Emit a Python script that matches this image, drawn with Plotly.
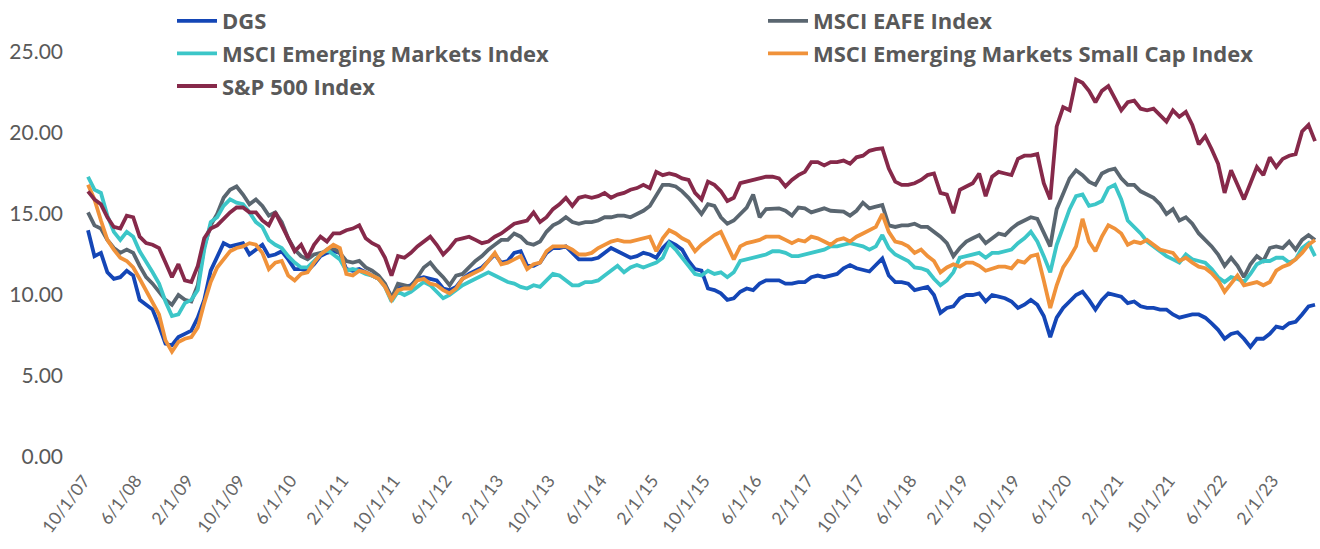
import plotly.graph_objects as go
import pandas as pd

# ---------------- data ----------------
months = pd.date_range("2007-10-01", periods=191, freq="MS")
categories = [f"{d.month}/{d.day}/{d.strftime('%y')}" for d in months]
tick_labels = categories[::8]

dgs = [
    14.0, 12.4, 12.6, 11.4, 11.0, 11.1, 11.5, 11.2, 9.7, 9.4,
    9.1, 8.1, 7.0, 6.9, 7.4, 7.6, 7.8, 8.6, 9.7, 11.5,
    12.3, 13.2, 13.0, 13.1, 13.2, 12.5, 12.8, 13.1, 12.4, 12.5,
    12.7, 12.2, 11.6, 11.6, 11.5, 11.9, 12.4, 12.6, 12.7, 12.6,
    11.6, 11.5, 11.6, 11.4, 11.2, 11.0, 10.6, 9.9, 10.4, 10.5,
    10.6, 11.0, 11.1, 11.0, 10.9, 10.4, 10.3, 10.5, 11.0, 11.3,
    11.5, 11.7, 12.1, 12.5, 12.0, 12.1, 12.6, 12.7, 11.8, 11.8,
    12.0, 12.6, 12.9, 12.9, 13.0, 12.6, 12.2, 12.2, 12.2, 12.3,
    12.6, 12.9, 12.7, 12.5, 12.3, 12.4, 12.6, 12.5, 12.3, 12.9,
    13.3, 13.1, 12.8, 12.1, 11.6, 11.5, 10.4, 10.3, 10.1, 9.7,
    9.8, 10.2, 10.4, 10.3, 10.7, 10.9, 10.9, 10.9, 10.7, 10.7,
    10.8, 10.8, 11.1, 11.2, 11.1, 11.2, 11.3, 11.65, 11.85, 11.65,
    11.55, 11.45, 11.85, 12.25, 11.2, 10.8, 10.8, 10.7, 10.3, 10.4,
    10.5, 10.0, 8.9, 9.2, 9.3, 9.8, 10.0, 10.0, 10.1, 9.6,
    10.0, 9.9, 9.8, 9.6, 9.2, 9.4, 9.7, 9.4, 8.7, 7.4,
    8.6, 9.2, 9.6, 10.0, 10.2, 9.7, 9.1, 9.7, 10.1, 10.0,
    9.9, 9.5, 9.6, 9.3, 9.2, 9.2, 9.1, 9.1, 8.8, 8.6,
    8.7, 8.8, 8.8, 8.6, 8.25, 7.85, 7.3, 7.6, 7.7, 7.3,
    6.8, 7.3, 7.3, 7.6, 8.05, 7.95, 8.25, 8.35, 8.8, 9.3, 9.4,
]

msci_eafe = [
    15.1, 14.3, 14.1, 13.4, 12.9, 12.6, 12.8, 12.6, 11.8, 11.1,
    10.7, 10.2, 9.7, 9.4, 10.0, 9.7, 9.6, 10.6, 13.0, 14.3,
    15.0, 16.0, 16.5, 16.7, 16.2, 15.6, 15.9, 15.5, 14.9, 15.1,
    14.5, 13.5, 12.8, 12.4, 12.2, 12.5, 12.6, 12.7, 12.9, 12.6,
    12.1, 12.0, 12.1, 11.7, 11.5, 11.2, 10.7, 9.8, 10.7, 10.6,
    10.5, 11.1, 11.7, 12.0, 11.5, 11.1, 10.6, 11.2, 11.3, 11.7,
    12.1, 12.4, 12.8, 13.1, 13.4, 13.4, 13.8, 13.6, 13.2, 13.1,
    13.3, 13.9, 14.3, 14.5, 14.8, 14.5, 14.4, 14.5, 14.5, 14.6,
    14.8, 14.8, 14.9, 14.9, 14.8, 15.0, 15.2, 15.5, 16.2, 16.8,
    16.8, 16.7, 16.4, 16.0, 15.5, 15.0, 15.6, 15.5, 14.8, 14.4,
    14.6, 15.0, 15.4, 16.2, 14.8, 15.3, 15.35, 15.35, 15.2, 14.9,
    15.4, 15.35, 15.1, 15.2, 15.35, 15.2, 15.15, 15.15, 14.9, 15.2,
    15.7, 15.35, 15.45, 15.55, 14.3, 14.2, 14.3, 14.3, 14.4, 14.2,
    14.2, 13.9, 13.6, 13.2, 12.4, 12.9, 13.3, 13.5, 13.7, 13.2,
    13.5, 13.8, 13.7, 14.1, 14.4, 14.6, 14.8, 14.7, 13.8, 13.0,
    15.3, 16.3, 17.2, 17.7, 17.4, 17.0, 16.8, 17.5, 17.7, 17.8,
    17.2, 16.8, 16.8, 16.4, 16.2, 16.0, 15.6, 15.0, 15.3, 14.6,
    14.8, 14.4, 13.8, 13.4, 13.0, 12.5, 11.8, 12.3, 11.8, 11.1,
    11.9, 12.4, 12.1, 12.9, 13.0, 12.9, 13.3, 12.8, 13.4, 13.7, 13.4,
]

msci_em = [
    17.3, 16.5, 16.3, 14.9, 13.9, 13.4, 13.9, 13.6, 12.7, 12.1,
    11.4, 10.7, 9.6, 8.7, 8.8, 9.5, 9.7, 10.3, 12.8, 14.5,
    14.8, 15.5, 15.9, 15.7, 15.6, 15.1, 14.5, 14.2, 13.4, 13.1,
    12.9, 12.4, 12.0, 11.7, 11.7, 12.1, 12.5, 12.8, 12.5, 12.2,
    11.5, 11.6, 11.5, 11.3, 11.2, 11.0, 10.5, 9.6, 10.2, 10.0,
    10.2, 10.5, 10.8, 10.6, 10.2, 9.8, 10.0, 10.3, 10.6, 10.8,
    11.0, 11.2, 11.4, 11.2, 11.0, 10.8, 10.7, 10.5, 10.4, 10.6,
    10.5, 10.9, 11.3, 11.2, 10.9, 10.6, 10.6, 10.8, 10.8, 10.9,
    11.2, 11.5, 11.8, 11.4, 11.7, 11.85, 11.7, 11.85, 12.0, 12.3,
    13.2, 12.8, 12.3, 11.8, 11.3, 11.2, 11.5, 11.3, 11.4, 11.1,
    11.4, 12.1, 12.2, 12.3, 12.4, 12.5, 12.7, 12.7, 12.6, 12.4,
    12.4, 12.5, 12.6, 12.7, 12.8, 13.0, 13.0, 13.1, 13.2, 13.1,
    13.0, 12.8, 13.0, 13.7, 12.9, 12.5, 12.3, 12.1, 11.7, 11.65,
    11.5, 11.0, 10.6, 10.9, 11.4, 12.3, 12.4, 12.5, 12.6, 12.3,
    12.6, 12.6, 12.7, 12.8, 13.2, 13.5, 13.9, 13.3, 12.4, 11.4,
    13.1, 14.2, 15.3, 16.1, 16.2, 15.5, 15.6, 15.8, 16.6, 16.8,
    15.9, 14.6, 14.2, 13.8, 13.3, 13.0, 12.7, 12.4, 12.2, 12.0,
    12.5, 12.2, 12.1, 12.0, 11.6, 11.1, 10.8, 11.1, 11.0, 10.8,
    11.3, 11.9, 12.1, 12.1, 12.3, 12.3, 12.0, 12.2, 12.9, 13.2, 12.4,
]

msci_em_small = [
    16.8, 15.9, 14.6, 13.4, 12.8, 12.3, 12.1, 11.7, 11.0, 10.3,
    9.6, 8.8, 7.2, 6.5, 7.1, 7.3, 7.4, 8.0, 9.5, 10.8,
    11.7, 12.2, 12.7, 12.9, 13.0, 13.2, 13.1, 12.6, 11.6, 12.0,
    12.1, 11.2, 10.9, 11.3, 11.4, 12.0, 12.5, 12.8, 13.1, 12.9,
    11.3, 11.2, 11.5, 11.4, 11.2, 11.0, 10.5, 9.7, 10.3, 10.4,
    10.4, 10.9, 11.0, 10.7, 10.6, 10.3, 10.1, 10.4, 11.0, 11.2,
    11.4, 11.6, 12.1, 12.6, 11.9, 12.0, 12.2, 12.4, 11.6, 11.9,
    12.0, 12.7, 13.0, 13.0, 13.0, 12.8, 12.5, 12.5, 12.6, 12.9,
    13.1, 13.3, 13.4, 13.3, 13.3, 13.4, 13.5, 13.6, 12.7, 13.5,
    14.0, 13.8, 13.5, 13.3, 12.7, 13.1, 13.4, 13.7, 13.9, 13.0,
    12.2, 13.0, 13.2, 13.3, 13.4, 13.6, 13.6, 13.6, 13.4, 13.2,
    13.4, 13.3, 13.6, 13.5, 13.3, 13.1, 13.4, 13.5, 13.3, 13.6,
    13.8, 14.0, 14.2, 15.0, 13.9, 13.3, 13.2, 13.0, 12.6, 12.8,
    12.4, 12.1, 11.4, 11.7, 11.9, 11.75, 12.0, 12.0, 11.8, 11.5,
    11.65, 11.75, 11.75, 11.65, 12.1, 12.0, 12.4, 12.5, 10.9, 9.2,
    10.6, 11.7, 12.3, 13.0, 14.7, 13.3, 12.7, 13.6, 14.3, 14.1,
    13.8, 13.1, 13.3, 13.2, 13.4, 13.1, 12.8, 12.7, 12.6, 12.1,
    12.3, 12.0, 11.75, 11.65, 11.35, 10.9, 10.2, 10.7, 11.2, 10.6,
    10.7, 10.8, 10.6, 10.8, 11.5, 11.75, 11.9, 12.2, 12.6, 13.1, 13.4,
]

sp500 = [
    16.4, 15.9, 15.6, 14.8, 14.2, 14.1, 14.9, 14.8, 13.6, 13.2,
    13.1, 12.9, 12.0, 11.1, 11.9, 10.9, 10.8, 11.8, 13.5, 14.1,
    14.3, 14.7, 15.1, 15.4, 15.4, 15.1, 15.1, 14.6, 14.3, 15.1,
    14.3, 13.6, 12.7, 13.1, 12.3, 13.1, 13.6, 13.3, 13.8, 13.8,
    14.0, 14.1, 14.3, 13.5, 13.2, 13.0, 12.3, 11.2, 12.4, 12.3,
    12.6, 13.0, 13.3, 13.6, 13.1, 12.5, 12.9, 13.4, 13.5, 13.6,
    13.4, 13.2, 13.3, 13.6, 13.8, 14.1, 14.4, 14.5, 14.6, 15.1,
    14.5, 14.8, 15.3, 15.6, 16.0, 15.5, 16.0, 16.1, 16.0, 16.1,
    16.3, 16.0, 16.2, 16.3, 16.5, 16.6, 16.8, 16.6, 17.6, 17.4,
    17.5, 17.4, 17.2, 17.1, 16.3, 15.9, 17.0, 16.8, 16.4, 15.8,
    16.0, 16.9, 17.0, 17.1, 17.2, 17.3, 17.3, 17.2, 16.7, 17.1,
    17.4, 17.6, 18.2, 18.2, 18.0, 18.2, 18.2, 18.3, 18.1, 18.5,
    18.6, 18.9, 19.0, 19.05, 17.8, 17.0, 16.8, 16.8, 16.9, 17.1,
    17.4, 17.5, 16.3, 16.2, 15.05, 16.5, 16.7, 16.9, 17.5, 16.1,
    17.3, 17.6, 17.5, 17.4, 18.4, 18.6, 18.6, 18.7, 16.9, 15.9,
    20.4, 21.6, 21.4, 23.3, 23.1, 22.6, 21.9, 22.6, 22.9, 22.2,
    21.4, 21.9, 22.0, 21.5, 21.4, 21.5, 21.1, 20.7, 21.4, 21.0,
    21.3, 20.5, 19.3, 19.8, 19.0, 18.1, 16.3, 17.7, 16.8, 15.9,
    16.9, 17.9, 17.4, 18.5, 17.9, 18.4, 18.6, 18.7, 20.1, 20.5, 19.5,
]

y_ticks = [0, 5, 10, 15, 20, 25]

series = [
    ("DGS", dgs, "#1446B6", "legend"),
    ("MSCI EAFE Index", msci_eafe, "#5A6670", "legend2"),
    ("MSCI Emerging Markets Index", msci_em, "#3CC6C8", "legend"),
    ("MSCI Emerging Markets Small Cap Index", msci_em_small, "#F0923A", "legend2"),
    ("S&P 500 Index", sp500, "#86294A", "legend"),
]

# ---------------- layout geometry ----------------
W, H = 1320, 549
plot_left, plot_right = 78, 1318
plot_top, plot_bottom = 52, 457
first_px, last_px = 88, 1315
n = len(categories)
ppi = (last_px - first_px) / (n - 1)
x_range = [-(first_px - plot_left) / ppi, (n - 1) + (plot_right - last_px) / ppi]

fig = go.Figure()
for name, vals, color, lg in series:
    fig.add_trace(go.Scatter(
        x=categories, y=vals, name=name, mode="lines",
        line=dict(color=color, width=3.8),
        legend=lg, legendgroup=name,
        hovertemplate="%{x}: %{y:.2f}<extra>" + name + "</extra>",
    ))

text_gray = "#595959"
legend_font = dict(family="Open Sans, sans-serif", size=22, color=text_gray, weight="bold")

fig.update_layout(
    width=W, height=H,
    margin=dict(l=plot_left, r=W - plot_right, t=plot_top, b=H - plot_bottom,
                pad=0, autoexpand=False),
    paper_bgcolor="white", plot_bgcolor="white",
    font=dict(family="Lato, sans-serif", color=text_gray),
    xaxis=dict(
        type="category", range=x_range,
        tickmode="array", tickvals=tick_labels, ticktext=tick_labels,
        tickangle=-53, tickfont=dict(size=17.5, color="#666666"),
        showgrid=False, showline=False, zeroline=False, ticks="",
        ticklabelshift=-4, ticklabelstandoff=9,
        automargin=False,
    ),
    yaxis=dict(
        range=[0, 25], tickmode="array", tickvals=y_ticks, tickformat=".2f",
        tickfont=dict(size=21, color=text_gray),
        showgrid=False, showline=False, zeroline=False, ticks="",
        ticklabelstandoff=14, automargin=False,
    ),
    legend=dict(
        xref="container", yref="container", x=172 / W, y=1 + 6 / H,
        xanchor="left", yanchor="top", orientation="v",
        font=legend_font, bgcolor="rgba(0,0,0,0)", tracegroupgap=1,
        traceorder="grouped", itemwidth=40,
    ),
    legend2=dict(
        xref="container", yref="container", x=763 / W, y=1 + 6 / H,
        xanchor="left", yanchor="top", orientation="v",
        font=legend_font, bgcolor="rgba(0,0,0,0)", tracegroupgap=1,
        traceorder="grouped", itemwidth=40,
    ),
    showlegend=True,
)

fig.write_html("out.html")
